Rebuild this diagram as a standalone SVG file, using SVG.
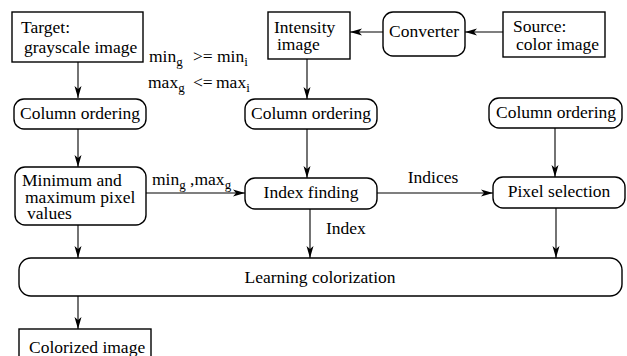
<svg xmlns="http://www.w3.org/2000/svg" width="627" height="356" viewBox="0 0 627 356">
<style>
.box{fill:#fff;stroke:#000;stroke-width:1.4}
text{font-family:'Liberation Serif','Tinos','Times New Roman','DejaVu Serif',serif;font-size:17.5px;fill:#000}
.c{text-anchor:middle}
.s{font-size:13px}
.ln{stroke:#000;stroke-width:1.1;fill:none;marker-end:url(#ah)}
</style>
<defs>
<marker id="ah" markerUnits="userSpaceOnUse" markerWidth="12" markerHeight="8" refX="12" refY="4" orient="auto">
<path d="M0,0.5 L12,4 L0,7.5 L3,4 z" fill="#000"/>
</marker>
</defs>
<rect width="627" height="356" fill="#fff"/>
<g id="connectors">
<line class="ln" x1="78" y1="62" x2="78" y2="98"/>
<line class="ln" x1="78" y1="129" x2="78" y2="167"/>
<line class="ln" x1="146" y1="193" x2="245" y2="193"/>
<line class="ln" x1="78" y1="225" x2="78" y2="258"/>
<line class="ln" x1="78" y1="296" x2="78" y2="329"/>
<line class="ln" x1="503" y1="32" x2="465" y2="32"/>
<line class="ln" x1="383" y1="32" x2="350" y2="32"/>
<line class="ln" x1="307" y1="59" x2="307" y2="99" stroke="#555"/>
<line class="ln" x1="307" y1="129" x2="307" y2="178"/>
<line class="ln" x1="310" y1="209" x2="310" y2="258"/>
<line class="ln" x1="377" y1="193" x2="493" y2="193"/>
<line class="ln" x1="555" y1="128" x2="555" y2="177"/>
<line class="ln" x1="556" y1="208" x2="556" y2="258"/>
<text font-family="Liberation Serif, serif" x="152" y="185">min<tspan class="s" dy="4">g</tspan><tspan dy="-4"> ,max</tspan><tspan class="s" dy="4">g</tspan></text>
<text font-family="Liberation Serif, serif" class="c" x="433" y="183">Indices</text>
<text font-family="Liberation Serif, serif" x="326" y="234">Index</text>
</g>
<g id="labels">
<text font-family="Liberation Serif, serif" x="149" y="62">min<tspan class="s" dy="4">g</tspan><tspan dy="-4" x="193">&gt;=</tspan><tspan x="217">min</tspan><tspan class="s" dy="4">i</tspan></text>
<text font-family="Liberation Serif, serif" x="148" y="88">max<tspan class="s" dy="4">g</tspan><tspan dy="-4" x="193">&lt;=</tspan><tspan x="216">max</tspan><tspan class="s" dy="4">i</tspan></text>
</g>
<g id="target">
<rect class="box" x="12" y="12" width="131" height="50"/>
<text x="21" y="33">Target:</text>
<text x="24" y="53">grayscale image</text>
</g>
<g id="col1">
<rect class="box" x="14" y="99" width="132" height="30" rx="10"/>
<text class="c" x="80" y="119">Column ordering</text>
</g>
<g id="minmax">
<rect class="box" x="15" y="167" width="131" height="58" rx="10"/>
<text x="22" y="186">Minimum and</text>
<text x="25" y="203">maximum pixel</text>
<text x="27" y="219">values</text>
</g>
<g id="intensity">
<rect class="box" x="268" y="12" width="82" height="47"/>
<text x="274" y="33">Intensity</text>
<text x="277" y="50">image</text>
</g>
<g id="converter">
<rect class="box" x="383" y="12" width="82" height="44" rx="10"/>
<text class="c" x="424" y="37">Converter</text>
</g>
<g id="source">
<rect class="box" x="503" y="12" width="102" height="45"/>
<text x="513" y="32">Source:</text>
<text x="516" y="50">color image</text>
</g>
<g id="col2">
<rect class="box" x="245" y="99" width="132" height="30" rx="10"/>
<text class="c" x="311" y="119">Column ordering</text>
</g>
<g id="col3">
<rect class="box" x="489" y="98" width="133" height="30" rx="10"/>
<text class="c" x="556" y="118">Column ordering</text>
</g>
<g id="index">
<rect class="box" x="245" y="178" width="132" height="31" rx="10"/>
<text class="c" x="311" y="198">Index finding</text>
</g>
<g id="pixel">
<rect class="box" x="493" y="177" width="132" height="31" rx="10"/>
<text class="c" x="559" y="197">Pixel selection</text>
</g>
<g id="learning">
<rect class="box" x="19" y="258" width="603" height="38" rx="12"/>
<text class="c" x="320" y="283">Learning colorization</text>
</g>
<g id="colorized">
<rect class="box" x="19" y="329" width="132" height="40"/>
<text x="29" y="353">Colorized image</text>
</g>
</svg>
